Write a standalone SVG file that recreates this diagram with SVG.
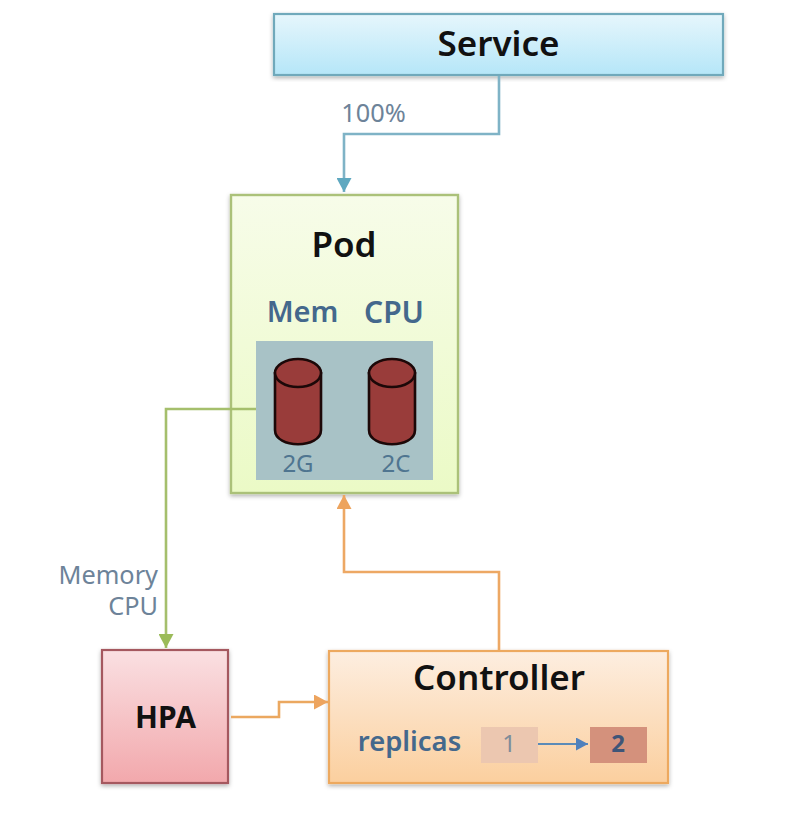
<svg xmlns="http://www.w3.org/2000/svg" width="806" height="816" viewBox="0 0 806 816">
<style>
text{font-family:"Noto Sans","Open Sans","Liberation Sans",sans-serif}
.t{font-size:35px;font-weight:600;fill:#111;text-anchor:middle}
.b{font-size:29px;font-weight:600;fill:#44688c;text-anchor:middle}
.l{font-size:25.3px;fill:#6d8399;text-anchor:middle}
.s{font-size:24px;fill:#4f7590;text-anchor:middle}
.c{fill:none;stroke-width:2.6}
.cyl{fill:#993c3a;stroke:#1c0808;stroke-width:2.6}
</style>
<defs>
<linearGradient id="gs" x1="0" y1="0" x2="0" y2="1"><stop offset="0" stop-color="#e6f6fc"/><stop offset="1" stop-color="#b5e6f8"/></linearGradient>
<linearGradient id="gp" x1="0" y1="0" x2="0" y2="1"><stop offset="0" stop-color="#f7fce9"/><stop offset="1" stop-color="#ebfac6"/></linearGradient>
<linearGradient id="gh" x1="0" y1="0" x2="0" y2="1"><stop offset="0" stop-color="#fae0e2"/><stop offset="1" stop-color="#f2a8ac"/></linearGradient>
<linearGradient id="gc" x1="0" y1="0" x2="0" y2="1"><stop offset="0" stop-color="#fdeee0"/><stop offset="1" stop-color="#fbcf9e"/></linearGradient>
<filter id="sh" x="-5%" y="-5%" width="110%" height="115%"><feDropShadow dx="0" dy="2" stdDeviation="2" flood-color="#000" flood-opacity="0.3"/></filter>
<marker id="ab" markerUnits="userSpaceOnUse" markerWidth="15" markerHeight="15" refX="14" refY="7.5" orient="auto"><path d="M0 0L14 7.5L0 15Z" fill="#5fa8c0"/></marker>
<marker id="ag" markerUnits="userSpaceOnUse" markerWidth="15" markerHeight="15" refX="14" refY="7.5" orient="auto"><path d="M0 0L14 7.5L0 15Z" fill="#9bbb59"/></marker>
<marker id="ao" markerUnits="userSpaceOnUse" markerWidth="15" markerHeight="15" refX="14" refY="7.5" orient="auto"><path d="M0 0L14 7.5L0 15Z" fill="#eda45e"/></marker>
<marker id="ai" markerUnits="userSpaceOnUse" markerWidth="13" markerHeight="13" refX="12" refY="6.5" orient="auto"><path d="M0 0L12 6.5L0 13Z" fill="#4f81bd"/></marker>
</defs>

<g id="service"><rect x="274" y="14" width="449" height="61" fill="url(#gs)" stroke="#6fa9bb" stroke-width="2.2" filter="url(#sh)"/><text class="t" x="498.500" y="56">Service</text></g>

<g id="pod"><rect x="231" y="195" width="227" height="298" fill="url(#gp)" stroke="#abc179" stroke-width="2.4" filter="url(#sh)"/>
<text class="t" x="344" y="257">Pod</text>
<text class="b" x="302.500" y="322">Mem</text><text class="b" x="394" y="323" style="font-size:30px">CPU</text>
<rect x="256" y="341" width="177" height="139" fill="#a8c2c6"/></g>

<g id="mem"><path class="cyl" d="M275 372V430C275 449 321 449 321 430V372"/><ellipse class="cyl" cx="298" cy="373" rx="23" ry="14" fill="#a0413f"/><text class="s" x="298" y="472">2G</text></g>
<g id="cpu"><path class="cyl" d="M369 372V430C369 449 415 449 415 430V372"/><ellipse class="cyl" cx="392" cy="373" rx="23" ry="14" fill="#a0413f"/><text class="s" x="396" y="472">2C</text></g>

<g id="hpa"><rect x="102" y="650" width="126" height="133" fill="url(#gh)" stroke="#a5585e" stroke-width="2.2" filter="url(#sh)"/><text x="165.500" y="728" font-size="30" font-weight="700" fill="#111" text-anchor="middle">HPA</text></g>

<g id="controller"><rect x="329" y="651" width="339" height="132" fill="url(#gc)" stroke="#eda95f" stroke-width="2.2" filter="url(#sh)"/>
<text class="t" x="499" y="690">Controller</text>
<text class="b" x="409.500" y="751" style="font-size:27.400px">replicas</text>
<rect x="481" y="727" width="57" height="36" fill="#ecc7b0"/><text x="509" y="752" font-size="24" fill="#7f8c99" text-anchor="middle">1</text>
<rect x="590" y="727" width="57" height="36" fill="#d4917c"/><text x="618" y="752" font-size="24" font-weight="700" fill="#3f5578" text-anchor="middle">2</text></g>

<g id="connectors">
<path class="c" stroke="#7fb3c6" marker-end="url(#ab)" d="M499 76V134H344V192"/>
<path class="c" stroke="#a5bf6c" marker-end="url(#ag)" d="M256 409H166V648"/>
<path class="c" stroke="#eda864" marker-end="url(#ao)" d="M499 650V572H344V495"/>
<path class="c" stroke="#eba860" marker-end="url(#ao)" d="M231 717H279V702H328"/>
<path fill="none" stroke="#5b8bb8" stroke-width="2" marker-end="url(#ai)" d="M538 744H588"/>
</g>

<text class="l" x="373.500" y="122">100%</text>
<text class="l" x="158" y="584" style="text-anchor:end">Memory</text>
<text class="l" x="158" y="615" style="text-anchor:end">CPU</text>
</svg>
